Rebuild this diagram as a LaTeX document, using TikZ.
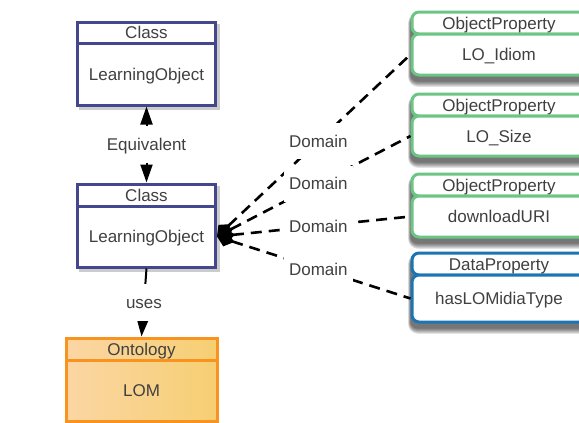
\documentclass[tikz,border=0pt]{standalone}
\usepackage{fontspec}
\setmainfont{Liberation Sans}
\usetikzlibrary{arrows.meta,backgrounds,calc}

\definecolor{ink}{HTML}{404040}
\definecolor{navy}{HTML}{45478C}
\definecolor{opgreen}{HTML}{6CC583}
\definecolor{dpblue}{HTML}{1B75B5}
\definecolor{ontoline}{HTML}{F7931E}
\definecolor{ontoleft}{HTML}{FBD6A4}
\definecolor{ontoright}{HTML}{F6CF72}

\tikzset{
  lbl/.style={font=\fontsize{17}{20}\selectfont, text=ink, text height=12.2pt, text depth=0pt},
  classbox/.style={draw=navy, line width=3pt, fill=white, minimum width=138pt, inner sep=0pt, lbl},
  ontobox/.style={draw=ontoline, line width=3pt, left color=ontoleft, right color=ontoright,
                  minimum width=151pt, inner sep=0pt, lbl},
  propbox/.style={draw=#1, line width=3pt, fill=white, rounded corners=7pt,
                  minimum width=174pt, inner sep=0pt, lbl},
  edgelabel/.style={lbl, fill=white, inner xsep=5pt, inner ysep=12pt},
  domainedge/.style={draw=black, line width=2.6pt, dash pattern=on 11pt off 7pt,
                     {Diamond[length=18pt,width=15pt]}-},
  assoc/.style={draw=black, line width=2pt, -{Triangle[length=18pt,width=12pt]}},
}

\begin{document}
\begin{tikzpicture}[x=1pt,y=1pt]
  \clip (0,0) rectangle (579,-423);

  % classes
  \node[classbox, minimum height=21pt] (clsAh) at (146.5,-32.5) {Class};
  \node[classbox, minimum height=62pt] (clsA)  at (146.5,-74)   {LearningObject};
  \node[classbox, minimum height=22pt] (clsBh) at (146.5,-195)  {Class};
  \node[classbox, minimum height=61pt] (clsB)  at (146.5,-236.5){LearningObject};

  % ontology
  \node[ontobox, minimum height=22pt] (ontoh) at (141.5,-349)   {Ontology};
  \node[ontobox, minimum height=61pt] (onto)  at (141.5,-390.5) {LOM};

  % properties
  \node[propbox=opgreen, minimum height=22pt] (idiomh) at (499,-23)    {ObjectProperty};
  \node[propbox=opgreen, minimum height=41pt] (idiom)  at (499,-54.5)  {LO\_Idiom};
  \node[propbox=opgreen, minimum height=22pt] (sizeh)  at (499,-105)   {ObjectProperty};
  \node[propbox=opgreen, minimum height=40pt] (size)   at (499,-136)   {LO\_Size};
  \node[propbox=opgreen, minimum height=22pt] (urih)   at (499,-185)   {ObjectProperty};
  \node[propbox=opgreen, minimum height=41pt] (uri)    at (499,-216.5) {downloadURI};
  \node[propbox=dpblue,  minimum height=22pt] (mediah) at (499,-264)   {DataProperty};
  \node[propbox=dpblue,  minimum height=47pt] (media)  at (499,-298.5) {hasLOMidiaType};

  % relations between classes
  \draw[assoc, {Triangle[length=18pt,width=12pt]}-{Triangle[length=18pt,width=12pt]}]
    (clsA.south) -- node[edgelabel] {Equivalent} (clsBh.north);
  \draw[assoc] (clsB.south) -- node[edgelabel] {uses} (ontoh.north);

  % domain links
  \draw[domainedge] (clsB.east) -- node[edgelabel, pos=0.524] {Domain} (idiom.west);
  \draw[domainedge] (clsB.east) -- node[edgelabel, pos=0.524] {Domain} (size.west);
  \draw[domainedge] (clsB.east) -- node[edgelabel, pos=0.524] {Domain} (uri.west);
  \draw[domainedge] (clsB.east) -- node[edgelabel, pos=0.524] {Domain} (media.west);

  % paper and shadows
  \begin{scope}[on background layer]
    \fill[white] (0,0) rectangle (579,-423);
    \foreach \top/\bot in {clsAh/clsA, clsBh/clsB}{
      \fill[black!20] ($(\top.north west)+(3,-3)$) rectangle ($(\bot.south east)+(3,-3)$);
    }
    \foreach \top/\bot in {idiomh/idiom, sizeh/size, urih/uri, mediah/media}{
      \foreach \i in {0,...,6}{
        \fill[black, opacity=0.1, rounded corners={7pt+0.5*\i pt}]
          ($(\top.north west)+(-0.4*\i,-6+0.6*\i)$) rectangle ($(\bot.south east)+(0.4*\i,-5-0.9*\i)$);
      }
    }
  \end{scope}
\end{tikzpicture}
\end{document}
